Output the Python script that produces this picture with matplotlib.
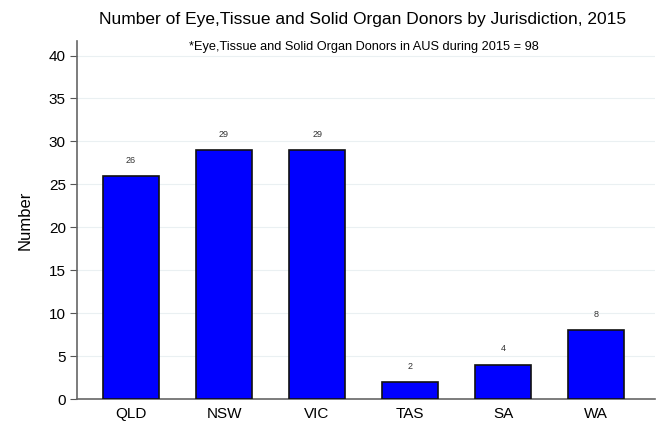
import matplotlib.pyplot as plt

states = ['QLD', 'NSW', 'VIC', 'TAS', 'SA', 'WA']
donors = [26, 29, 29, 2, 4, 8]
yticks = [0, 5, 10, 15, 20, 25, 30, 35, 40]

plt.rcParams['font.family'] = ['Liberation Sans', 'DejaVu Sans']

fig = plt.figure(figsize=(6.56, 4.22), dpi=100)
ax = fig.add_axes([0.1174, 0.0545, 0.881, 0.8485])

x = range(len(states))
ax.bar(x, donors, width=0.6, color='#0000ff', edgecolor='#111111', linewidth=1.2, zorder=3)
for xi, v in zip(x, donors):
    ax.text(xi, v + 1.3, str(v), ha='center', va='bottom', fontsize=6.5, color='#333333')

ax.set_xlim(-0.58, 5.63)
ax.set_ylim(0, 41.7)
ax.set_xticks(list(x))
ax.set_xticklabels(states, fontsize=11)
ax.set_yticks(yticks)
ax.tick_params(axis='y', labelsize=11, length=5, color='#555555', pad=3)
ax.tick_params(axis='x', length=0, pad=6)
ax.grid(axis='y', color='#eaf0f2', linewidth=0.8, zorder=0)
for s in ['top', 'right']:
    ax.spines[s].set_visible(False)
for s in ['left', 'bottom']:
    ax.spines[s].set_color('#666666')
    ax.spines[s].set_linewidth(1.2)

ax.set_ylabel('Number', fontsize=12, labelpad=12)
fig.text(0.552, 0.953, 'Number of Eye,Tissue and Solid Organ Donors by Jurisdiction, 2015',
         ha='center', va='center', fontsize=12.5)
fig.text(0.555, 0.889, '*Eye,Tissue and Solid Organ Donors in AUS during 2015 = 98',
         ha='center', va='center', fontsize=9.2)

fig.savefig('out.png', dpi=100)
